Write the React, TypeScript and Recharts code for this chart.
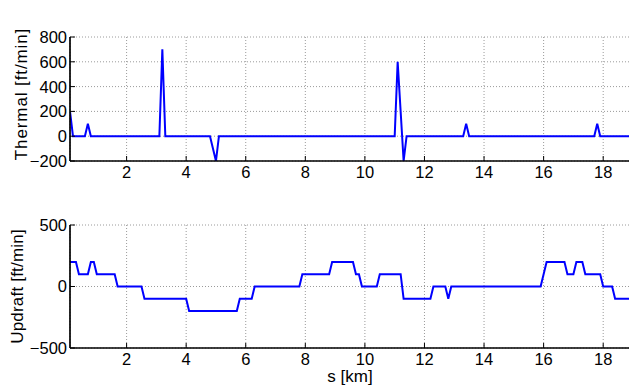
import React from 'react';
import { LineChart, Line, XAxis, YAxis, CartesianGrid } from 'recharts';

// Distance along the route [km]
const kmTicks = [2, 4, 6, 8, 10, 12, 14, 16, 18];
const kmDomain = [0.1, 18.9];

// Thermal strength profile
const thermalKm = [0.1, 0.2, 0.6, 0.7, 0.8, 3.1, 3.2, 3.3, 4.8, 5.0, 5.1, 11.0, 11.1, 11.3, 11.4, 13.3, 13.4, 13.5, 17.7, 17.8, 17.9, 18.9];
const thermalFtMin = [200, 0, 0, 100, 0, 0, 700, 0, 0, -200, 0, 0, 600, -200, 0, 0, 100, 0, 0, 100, 0, 0];
const thermalTicks = [-200, 0, 200, 400, 600, 800];

// Updraft profile
const updraftKm = [0.1, 0.3, 0.4, 0.7, 0.8, 0.9, 1.0, 1.6, 1.7, 2.5, 2.6, 4.0, 4.1, 5.7, 5.8, 6.2, 6.3, 7.8, 7.9, 8.8, 8.9, 9.6, 9.7, 9.8, 9.9, 10.4, 10.5, 11.2, 11.3, 12.2, 12.3, 12.7, 12.8, 12.9, 15.9, 16.1, 16.7, 16.8, 17.0, 17.1, 17.3, 17.4, 17.9, 18.0, 18.3, 18.4, 18.9];
const updraftFtMin = [200, 200, 100, 100, 200, 200, 100, 100, 0, 0, -100, -100, -200, -200, -100, -100, 0, 0, 100, 100, 200, 200, 100, 100, 0, 0, 100, 100, -100, -100, 0, 0, -100, 0, 0, 200, 200, 100, 100, 200, 200, 100, 100, 0, 0, -100, -100];
const updraftTicks = [-500, 0, 500];

const thermalData = thermalKm.map((s, i) => ({ s, v: thermalFtMin[i] }));
const updraftData = updraftKm.map((s, i) => ({ s, v: updraftFtMin[i] }));

const FONT = '"Liberation Sans", Arial, Helvetica, sans-serif';
const TICK_LEN = 5;
const TICK_FONT = 16.5;
const fmt = (v: number) => (v < 0 ? `\u2212${Math.abs(v)}` : `${v}`);

function BottomTick(props: any) {
  const { x, y, payload } = props;
  return (
    <g>
      <line x1={x} x2={x} y1={y} y2={y - TICK_LEN} stroke="#000" strokeWidth={1} />
      <text x={x} y={y + 17} textAnchor="middle" fontSize={TICK_FONT} fontFamily={FONT} fill="#000">
        {fmt(payload.value)}
      </text>
    </g>
  );
}

function TopTick(props: any) {
  const { x, y } = props;
  return <line x1={x} x2={x} y1={y} y2={y + TICK_LEN} stroke="#000" strokeWidth={1} />;
}

function LeftTick(props: any) {
  const { x, y, payload } = props;
  return (
    <g>
      <line x1={x} x2={x + TICK_LEN} y1={y} y2={y} stroke="#000" strokeWidth={1} />
      <text x={x - 3} y={y} dy="0.36em" textAnchor="end" fontSize={TICK_FONT} fontFamily={FONT} fill="#000">
        {fmt(payload.value)}
      </text>
    </g>
  );
}

function RightTick(props: any) {
  const { x, y } = props;
  return <line x1={x} x2={x - TICK_LEN} y1={y} y2={y} stroke="#000" strokeWidth={1} />;
}

const yTitle = (text: string, dx: number, dyShift: number, spacing: number) => (p: any) => {
  const { x, y, height } = p.viewBox;
  const cx = x + dx;
  const cy = y + height / 2 + dyShift;
  return (
    <text
      transform={`translate(${cx},${cy}) rotate(-90)`}
      textAnchor="middle"
      dy="0.35em"
      fontSize={17}
      fontFamily={FONT}
      letterSpacing={spacing}
      fill="#000"
    >
      {text}
    </text>
  );
};

const axisLine = { stroke: '#000', strokeWidth: 1.7 };
const gridProps = { stroke: '#9a9a9a', strokeDasharray: '1 2', strokeWidth: 1 };

function Panel(props: {
  data: { s: number; v: number }[];
  yDomain: number[];
  yTicks: number[];
  top: number;
  height: number;
  marginTop: number;
  yLabel: string;
  yLabelX: number;
  yLabelShift: number;
  yLabelSpacing: number;
  title?: string;
  xTitle?: string;
}) {
  const { data, yDomain, yTicks, top, height, marginTop, yLabel, yLabelX, yLabelShift, yLabelSpacing, title, xTitle } = props;
  return (
    <div style={{ position: 'absolute', left: 0, top, width: 630, height }}>
      <LineChart width={630} height={height} data={data} margin={{ top: marginTop, right: 0, bottom: 0, left: 0 }}>
        <CartesianGrid {...gridProps} />
        <XAxis
          dataKey="s"
          type="number"
          domain={kmDomain}
          ticks={kmTicks}
          interval={0}
          height={39}
          tickSize={0}
          tickMargin={0}
          tickLine={false}
          axisLine={axisLine}
          tick={<BottomTick />}
          allowDataOverflow
          label={
            xTitle
              ? {
                  content: (p: any) => {
                    const { x, y, width } = p.viewBox;
                    return (
                      <text x={x + width / 2} y={y + 34} textAnchor="middle" fontSize={17} fontFamily={FONT} fill="#000">
                        {xTitle}
                      </text>
                    );
                  },
                }
              : undefined
          }
        />
        <XAxis
          xAxisId="t"
          orientation="top"
          dataKey="s"
          type="number"
          domain={kmDomain}
          ticks={kmTicks}
          interval={0}
          height={0}
          tickSize={0}
          tickMargin={0}
          tickLine={false}
          axisLine={axisLine}
          tick={<TopTick />}
          allowDataOverflow
          label={
            title
              ? {
                  content: (p: any) => {
                    const { x, y, width } = p.viewBox;
                    return (
                      <text x={x + width / 2} y={y - 12} textAnchor="middle" fontSize={17.5} fontFamily={FONT} letterSpacing={0.3} fill="#000">
                        {title}
                      </text>
                    );
                  },
                }
              : undefined
          }
        />
        <YAxis
          type="number"
          domain={yDomain}
          ticks={yTicks}
          interval={0}
          width={70}
          tickSize={0}
          tickMargin={0}
          tickLine={false}
          axisLine={axisLine}
          tick={<LeftTick />}
          allowDataOverflow
          label={{ content: yTitle(yLabel, yLabelX, yLabelShift, yLabelSpacing) }}
        />
        <YAxis
          yAxisId="r"
          orientation="right"
          type="number"
          domain={yDomain}
          ticks={yTicks}
          interval={0}
          width={0}
          tickSize={0}
          tickMargin={0}
          tickLine={false}
          axisLine={axisLine}
          tick={<RightTick />}
          allowDataOverflow
        />
        <Line type="linear" dataKey="v" stroke="#0000ff" strokeWidth={2} dot={false} isAnimationActive={false} />
      </LineChart>
    </div>
  );
}

export default function App() {
  return (
    <div style={{ position: 'absolute', left: 0, top: 0, width: 629, height: 387, overflow: 'hidden', background: '#fff' }}>
      <Panel
        data={thermalData}
        yDomain={[-200, 800]}
        yTicks={thermalTicks}
        top={0}
        height={200}
        marginTop={37}
        yLabel="Thermal [ft/min]"
        yLabelX={21}
        yLabelShift={-5}
        yLabelSpacing={0.9}
        title="Operating Conditions"
      />
      <Panel
        data={updraftData}
        yDomain={[-500, 500]}
        yTicks={updraftTicks}
        top={200}
        height={187}
        marginTop={25}
        yLabel="Updraft [ft/min]"
        yLabelX={17}
        yLabelShift={0}
        yLabelSpacing={0.2}
        xTitle="s [km]"
      />
    </div>
  );
}
